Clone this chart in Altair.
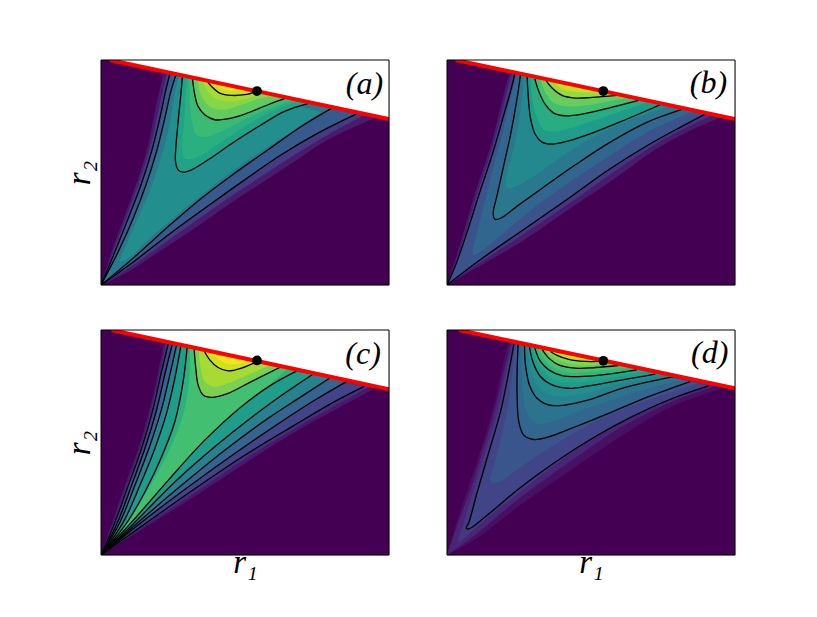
import altair as alt
import pandas as pd

# Coordinates in axis units; FRAME gives each panel's axis limits.
O_A = (18, 690); O_B = (14, 690); O_C = (18, 688); O_D = (14, 688)

A_LINES = [
    (0.28, [(225,58),(212,110),(195,190),(170,290),(140,385),(100,490),(60,590),O_A,O_A,(110,625),(220,540),(330,460),(450,375),(560,300),(670,235),(785,178)]),
    (0.40, [(243,62),(228,110),(210,190),(185,290),(155,385),(115,490),(70,590),O_A,O_A,(120,605),(220,515),(320,430),(420,355),(520,285),(620,215),(712,160)]),
    (0.58, [(263,65),(258,120),(250,200),(243,280),(242,320),(250,345),(265,352),(290,345),(340,315),(420,260),(500,210),(570,170),(640,147)]),
    (0.76, [(293,72),(300,120),(310,155),(330,180),(360,195),(400,192),(450,178),(520,150),(570,132)]),
    (0.92, [(338,80),(350,95),(375,115),(410,122),(450,120),(487,110)]),
]
A_SHADES = [
    (0.07, [(207,50),(198,90),(180,170),(160,270),(130,370),(90,480),(50,590),O_A,O_A,(100,650),(200,585),(300,520),(400,450),(500,385),(600,320),(700,255),(850,186)]),
    (0.17, [(216,55),(205,105),(188,180),(165,280),(135,375),(95,485),(55,590),O_A,O_A,(100,640),(200,570),(300,500),(400,430),(500,365),(600,300),(700,240),(815,178)]),
    (0.49, [(252,64),(238,130),(222,220),(195,320),(160,420),(120,510),(85,590),(75,620),(100,610),(170,545),(260,470),(340,405),(440,330),(560,250),(680,172)]),
    (0.63, [(278,70),(272,130),(268,200),(262,270),(270,310),(300,310),(360,275),(440,222),(520,175),(605,140)]),
    (0.68, [(285,72),(285,140),(292,200),(305,240),(340,245),(400,220),(480,180),(590,137)]),
    (0.82, [(310,75),(315,110),(330,140),(355,160),(390,165),(440,150),(500,130),(540,122)]),
    (0.87, [(325,78),(335,105),(360,130),(400,140),(440,135),(510,117)]),
    (0.97, [(360,84),(380,100),(410,108),(440,105),(465,102)]),
]

B_LINES = [
    (0.25, [(218,58),(205,110),(185,180),(150,300),(110,420),(75,530),(40,630),O_B,O_B,(120,610),(250,520),(380,430),(500,345),(620,270),(720,215),(790,178)]),
    (0.40, [(235,60),(225,130),(205,240),(185,330),(165,420),(153,475),(158,493),(175,490),(230,450),(300,400),(400,330),(500,265),(610,205),(718,165)]),
    (0.55, [(255,65),(258,120),(265,190),(280,240),(300,262),(330,268),(380,258),(450,235),(550,195),(655,150)]),
    (0.70, [(278,72),(290,110),(310,150),(335,175),(370,183),(420,178),(500,160),(590,137)]),
    (0.85, [(312,78),(330,100),(360,122),(400,130),(450,128),(525,122)]),
]
B_SHADES = [
    (0.07, [(205,48),(192,90),(172,170),(140,290),(100,410),(70,510),(40,610),O_B,O_B,(100,640),(230,565),(400,450),(520,370),(640,285),(740,230),(850,183)]),
    (0.15, [(212,52),(198,95),(178,175),(145,295),(105,415),(75,515),(45,610),O_B,O_B,(110,625),(240,540),(390,440),(510,355),(630,275),(730,220),(820,178)]),
    (0.33, [(225,60),(205,130),(180,240),(155,330),(130,430),(105,530),(92,600),(115,590),(200,520),(300,440),(400,370),(500,305),(620,230),(755,170)]),
    (0.47, [(245,62),(240,130),(225,230),(210,300),(190,380),(195,400),(240,385),(330,325),(430,260),(540,205),(680,155)]),
    (0.62, [(266,68),(270,130),(285,190),(305,225),(340,230),(400,215),(490,185),(620,142)]),
    (0.77, [(295,74),(310,115),(335,145),(375,155),(430,152),(500,140),(560,130)]),
    (0.91, [(335,85),(365,105),(410,112),(490,113)]),
    (0.97, [(370,85),(395,97),(440,100),(470,104)]),
]

C_LINES = [
    (0.20, [(220,58),(200,140),(175,250),(140,370),(100,480),(60,590),O_C,O_C,(150,595),(300,490),(450,390),(600,300),(720,230),(808,185)]),
    (0.32, [(232,60),(212,140),(185,255),(150,370),(110,480),(68,590),O_C,O_C,(140,590),(280,485),(420,385),(560,290),(670,220),(756,170)]),
    (0.44, [(245,62),(225,150),(198,260),(162,370),(120,480),(75,590),O_C,O_C,(130,590),(260,480),(390,375),(520,280),(620,215),(705,160)]),
    (0.55, [(258,65),(240,160),(215,265),(178,375),(135,480),(85,590),O_C,O_C,(120,590),(240,470),(360,365),(480,270),(570,205),(655,148)]),
    (0.64, [(277,68),(265,170),(240,290),(200,395),(155,490),(100,585),O_C,O_C,(110,590),(220,465),(330,345),(440,245),(530,180),(607,138)]),
    (0.80, [(298,72),(303,130),(310,180),(325,210),(350,217),(400,205),(470,170),(555,128)]),
    (0.93, [(328,78),(345,105),(370,128),(400,138),(440,130),(487,110)]),
]
C_SHADES = [
    (0.06, [(208,50),(190,140),(165,250),(130,370),(90,480),(52,590),O_C,O_C,(160,600),(320,500),(480,395),(620,310),(730,250),(850,186)]),
    (0.13, [(214,52),(195,140),(170,250),(135,370),(95,480),(56,590),O_C,O_C,(155,597),(310,495),(465,392),(610,305),(725,240),(830,183)]),
    (0.70, [(285,70),(283,170),(265,270),(235,350),(190,440),(130,540),(60,640),(150,545),(240,440),(340,335),(450,240),(530,175),(580,130)]),
    (0.87, [(312,76),(318,130),(330,170),(355,185),(400,175),(470,145),(525,122)]),
    (0.98, [(350,84),(375,105),(405,118),(440,115),(470,105)]),
]

D_LINES = [
    (0.20, [(215,58),(200,140),(175,260),(140,380),(105,500),(80,590),(72,608),(80,610),(140,565),(230,490),(340,410),(450,340),(560,280),(680,225),(800,183)]),
    (0.33, [(228,60),(225,130),(225,220),(230,290),(245,330),(275,343),(320,335),(400,305),(500,265),(620,215),(745,170)]),
    (0.44, [(247,64),(250,120),(262,180),(285,220),(320,240),(370,240),(440,225),(540,190),(695,155)]),
    (0.55, [(262,66),(272,110),(295,155),(330,180),(380,190),(440,183),(540,165),(640,148)]),
    (0.66, [(278,70),(295,110),(320,135),(360,152),(410,155),(480,150),(585,135)]),
    (0.77, [(300,74),(320,100),(350,120),(400,130),(460,128),(530,122)]),
    (0.88, [(325,80),(345,92),(380,104),(430,110),(472,110)]),
]
D_SHADES = [
    (0.04, [(200,50),(180,130),(155,240),(120,360),(80,480),(40,600),O_D,O_D,(100,640),(240,535),(400,425),(550,325),(700,240),(860,186)]),
    (0.10, [(207,54),(187,130),(160,245),(125,365),(85,490),(45,600),O_D,O_D,(90,635),(230,520),(390,405),(540,305),(690,230),(830,180)]),
    (0.16, [(211,56),(193,130),(168,250),(132,370),(95,490),(65,590),(48,650),(80,625),(150,565),(240,495),(385,385),(525,295),(675,225),(815,178)]),
    (0.26, [(222,60),(212,130),(198,240),(178,330),(155,420),(145,470),(170,470),(230,430),(320,370),(430,305),(550,250),(770,175)]),
    (0.38, [(238,62),(238,130),(243,210),(258,270),(285,295),(330,290),(420,255),(510,225),(620,190),(720,165)]),
    (0.49, [(255,65),(262,115),(278,170),(310,205),(360,215),(430,205),(530,178),(668,150)]),
    (0.60, [(270,68),(285,110),(310,145),(345,168),(395,172),(460,166),(610,140)]),
    (0.71, [(288,72),(308,105),(335,128),(380,142),(435,142),(555,128)]),
    (0.82, [(312,77),(335,97),(370,112),(420,120),(470,118),(510,118)]),
    (0.95, [(355,88),(385,98),(430,103),(470,104)]),
]

PANELS = ["a", "b", "c", "d"]
FRAME = {"a": (18, 884, 690, 16), "b": (14, 880, 690, 16), "c": (18, 884, 688, 16), "d": (14, 880, 688, 16)}
RED = {"a": [(45,16),(884,193)], "b": [(40,16),(880,193)], "c": [(50,16),(884,193)], "d": [(50,16),(880,190)]}
DOT = {"a": (487,109), "b": (484,109), "c": (487,107), "d": (484,108)}
LABEL = {"a": (810,88), "b": (800,84), "c": (806,88), "d": (804,84)}
LINES = {"a": A_LINES, "b": B_LINES, "c": C_LINES, "d": D_LINES}
SHADES = {"a": A_SHADES, "b": B_SHADES, "c": C_SHADES, "d": D_SHADES}


def rows(paths):
    out = []
    for g, (z, path) in enumerate(paths):
        for i, (x, y) in enumerate(path):
            out.append({"x": x, "y": y, "z": z, "g": f"{g:03d}", "i": i})
    return pd.DataFrame(out)


def panel(name):
    x0, x1, y0, y1 = FRAME[name]
    xs = alt.Scale(domain=[x0, x1], nice=False, zero=False)
    ys = alt.Scale(domain=[y0, y1], nice=False, zero=False)
    bottom = name in ("c", "d")
    left = name in ("a", "c")
    xax = alt.Axis(labels=False, ticks=False, domain=False, grid=False, title="r₁" if bottom else None,
                   titleFont="Liberation Serif", titleFontStyle="italic", titleFontWeight="normal",
                   titleFontSize=33, titlePadding=-9, titleColor="black")
    yax = alt.Axis(labels=False, ticks=False, domain=False, grid=False, title="r₂" if left else None,
                   titleFont="Liberation Serif", titleFontStyle="italic", titleFontWeight="normal",
                   titleFontSize=33, titlePadding=5, titleColor="black")
    X = alt.X("x:Q", scale=xs, axis=xax)
    Y = alt.Y("y:Q", scale=ys, axis=yax)

    all_shades = sorted(SHADES[name] + LINES[name], key=lambda s: s[0])
    layers = []
    back = [(0.0, [(x0, y0), (x1, y0), (x1, y1), (x0, y1)])] + all_shades
    for z, path in back:
        layers.append(
            alt.Chart(rows([(z, path)])).mark_line(
                interpolate="linear" if z == 0 else "catmull-rom", strokeWidth=0, clip=True, filled=True
            ).encode(
                X, Y, order="i:Q",
                fill=alt.Fill("z:Q", scale=alt.Scale(scheme="viridis", domain=[0, 1]), legend=None),
            )
        )
    rx, ry = zip(*RED[name])
    white = [(rx[0], ry[0]), (x1, y1), (x1, ry[1])]
    layers.append(
        alt.Chart(rows([(1, white)])).mark_line(strokeWidth=0, clip=True, filled=True, fill="white").encode(X, Y, order="i:Q")
    )
    layers.append(
        alt.Chart(rows(LINES[name])).mark_line(interpolate="catmull-rom", color="black", strokeWidth=1.3, clip=True).encode(
            X, Y, order="i:Q", detail="g:N"
        )
    )
    layers.append(
        alt.Chart(rows([(1, RED[name])])).mark_line(color="#ff0000", strokeWidth=4, clip=True).encode(X, Y, order="i:Q")
    )
    layers.append(
        alt.Chart(rows([(1, [DOT[name]])])).mark_point(filled=True, color="black", size=95, opacity=1).encode(X, Y)
    )
    border = [(x0, y0), (x1, y0), (x1, y1), (x0, y1), (x0, y0)]
    layers.append(
        alt.Chart(rows([(1, border)])).mark_line(color="black", strokeWidth=1).encode(X, Y, order="i:Q")
    )
    lx, ly = LABEL[name]
    layers.append(
        alt.Chart(pd.DataFrame({"x": [lx], "y": [ly], "t": [f"({name})"]})).mark_text(
            font="Liberation Serif", fontStyle="italic", fontSize=32, color="black", align="center", baseline="middle"
        ).encode(X, Y, text="t:N")
    )
    return alt.layer(*layers).properties(width=288, height=225)


chart = (
    alt.vconcat(
        alt.hconcat(panel("a"), panel("b"), spacing=52),
        alt.hconcat(panel("c"), panel("d"), spacing=52),
        spacing=39,
    )
    .resolve_scale(x="independent", y="independent", fill="shared")
    .properties(padding={"left": 54, "top": 49, "right": 5, "bottom": 5})
    .configure_view(stroke=None)
    .configure(background="white")
)
chart.save("out.html", embed_options={"renderer": "svg", "actions": False})
